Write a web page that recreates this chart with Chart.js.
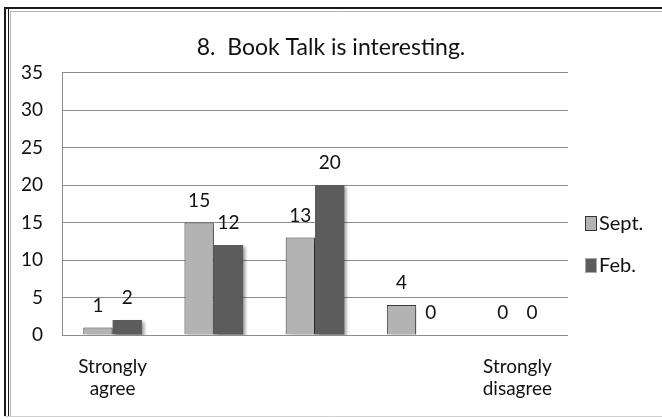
<!DOCTYPE html>
<html>
<head>
<meta charset="utf-8">
<script src="https://cdn.jsdelivr.net/npm/chart.js@4.4.1/dist/chart.umd.min.js"></script>
<style>
    html, body { margin: 0; padding: 0; background: #fff; }
    #wrap { width: 662px; height: 419px; position: relative; }
</style>
</head>
<body>
<div id="wrap"><canvas id="bookTalkChart" width="662" height="419"></canvas></div>
<script>
const categories = [['Strongly', 'agree'], '', '', '', ['Strongly', 'disagree']];
const seriesNames = ['Sept.', 'Feb.'];
const septValues = [1, 15, 13, 4, 0];
const febValues = [2, 12, 20, 0, 0];
const yTicks = [0, 5, 10, 15, 20, 25, 30, 35];

const FONT = "Lato, 'Noto Sans', sans-serif";
const SEPT_COLOR = '#b3b3b3';
const FEB_COLOR = '#5c5c5c';

// frame round the whole picture (no right side, light bottom)
const framePlugin = {
    id: 'frame',
    beforeDraw(chart) {
        const ctx = chart.ctx;
        ctx.save();
        ctx.fillStyle = '#fff';
        ctx.fillRect(0, 0, chart.width, chart.height);
        ctx.strokeStyle = '#1a1a1a';
        ctx.lineWidth = 2;
        ctx.beginPath();
        ctx.moveTo(5, 416); ctx.lineTo(5, 8); ctx.lineTo(662, 8);
        ctx.stroke();
        ctx.lineWidth = 1;
        ctx.beginPath();
        ctx.moveTo(8.5, 416); ctx.lineTo(8.5, 9);
        ctx.stroke();
        ctx.strokeStyle = '#b5b5b5';
        ctx.beginPath();
        ctx.moveTo(10.5, 416); ctx.lineTo(10.5, 11.5); ctx.lineTo(662, 11.5);
        ctx.stroke();
        ctx.strokeStyle = '#d0d0d0';
        ctx.beginPath();
        ctx.moveTo(5, 416.5); ctx.lineTo(662, 416.5);
        ctx.stroke();
        ctx.restore();
    }
};

// soft drop shadow on the bars
const shadowPlugin = {
    id: 'barShadow',
    beforeDatasetsDraw(chart) {
        const ctx = chart.ctx;
        ctx.save();
        ctx.shadowColor = 'rgba(0,0,0,0.35)';
        ctx.shadowBlur = 3;
        ctx.shadowOffsetX = 3;
        ctx.shadowOffsetY = 2;
    },
    afterDatasetsDraw(chart) {
        chart.ctx.restore();
    }
};

// value over every bar
const valuePlugin = {
    id: 'values',
    afterDatasetsDraw(chart) {
        const ctx = chart.ctx;
        ctx.save();
        ctx.font = '19px ' + FONT;
        ctx.fillStyle = '#111';
        ctx.textAlign = 'center';
        ctx.textBaseline = 'middle';
        chart.data.datasets.forEach(function (ds, i) {
            chart.getDatasetMeta(i).data.forEach(function (bar, j) {
                ctx.fillText(ds.data[j], bar.x, bar.y - 22);
            });
        });
        ctx.restore();
    }
};

// legend at the right side
const sideLegendPlugin = {
    id: 'sideLegend',
    afterDraw(chart) {
        const ctx = chart.ctx;
        const x = chart.chartArea.right + 17;
        const rows = [223, 265];
        ctx.save();
        ctx.font = '20px ' + FONT;
        ctx.textBaseline = 'middle';
        chart.data.datasets.forEach(function (ds, i) {
            const y = rows[i];
            ctx.fillStyle = ds.backgroundColor;
            ctx.fillRect(x, y - 7, 11, 14);
            ctx.strokeStyle = i === 0 ? '#333' : '#aaa';
            ctx.lineWidth = 1;
            ctx.strokeRect(x + 0.5, y - 6.5, 11, 14);
            ctx.fillStyle = '#111';
            ctx.fillText(ds.label, x + 14, y + 1);
        });
        ctx.restore();
    }
};

const ctx = document.getElementById('bookTalkChart').getContext('2d');
new Chart(ctx, {
    type: 'bar',
    data: {
        labels: categories,
        datasets: [{
            label: seriesNames[0],
            data: septValues,
            backgroundColor: SEPT_COLOR,
            borderColor: '#3a3a3a',
            borderWidth: 1,
            categoryPercentage: 0.58,
            barPercentage: 1.0
        }, {
            label: seriesNames[1],
            data: febValues,
            backgroundColor: FEB_COLOR,
            borderColor: FEB_COLOR,
            borderWidth: 0,
            categoryPercentage: 0.58,
            barPercentage: 1.0
        }]
    },
    options: {
        responsive: false,
        animation: false,
        layout: { padding: { left: 0, right: 0, top: 0, bottom: 0 } },
        plugins: {
            legend: { display: false },
            tooltip: { enabled: false },
            title: {
                display: true,
                text: '8.  Book Talk is interesting.',
                color: '#111',
                font: { family: FONT, size: 23, weight: 'normal', lineHeight: 1.2 },
                padding: { top: 34, bottom: 11 }
            }
        },
        scales: {
            x: {
                afterFit(scale) { scale.height = 84; },
                grid: { display: false, drawTicks: false },
                border: { display: false },
                ticks: {
                    color: '#111',
                    padding: 20,
                    maxRotation: 0,
                    autoSkip: false,
                    font: { family: FONT, size: 19, lineHeight: 1.2 }
                }
            },
            y: {
                min: 0,
                max: 35,
                afterFit(scale) { scale.width = 62; },
                afterBuildTicks(scale) {
                    scale.ticks = yTicks.map(v => ({ value: v }));
                },
                grid: { color: '#8c8c8c', lineWidth: 1, drawTicks: false },
                border: { display: true, color: '#8c8c8c', width: 1 },
                ticks: {
                    color: '#111',
                    padding: 19,
                    font: { family: FONT, size: 19 }
                }
            },
            // empty room on the right for the legend
            legendRoom: {
                position: 'right',
                afterFit(scale) { scale.width = 94; },
                grid: { display: false, drawTicks: false },
                border: { display: false },
                ticks: { display: false }
            }
        }
    },
    plugins: [framePlugin, shadowPlugin, valuePlugin, sideLegendPlugin]
});
</script>
</body>
</html>
